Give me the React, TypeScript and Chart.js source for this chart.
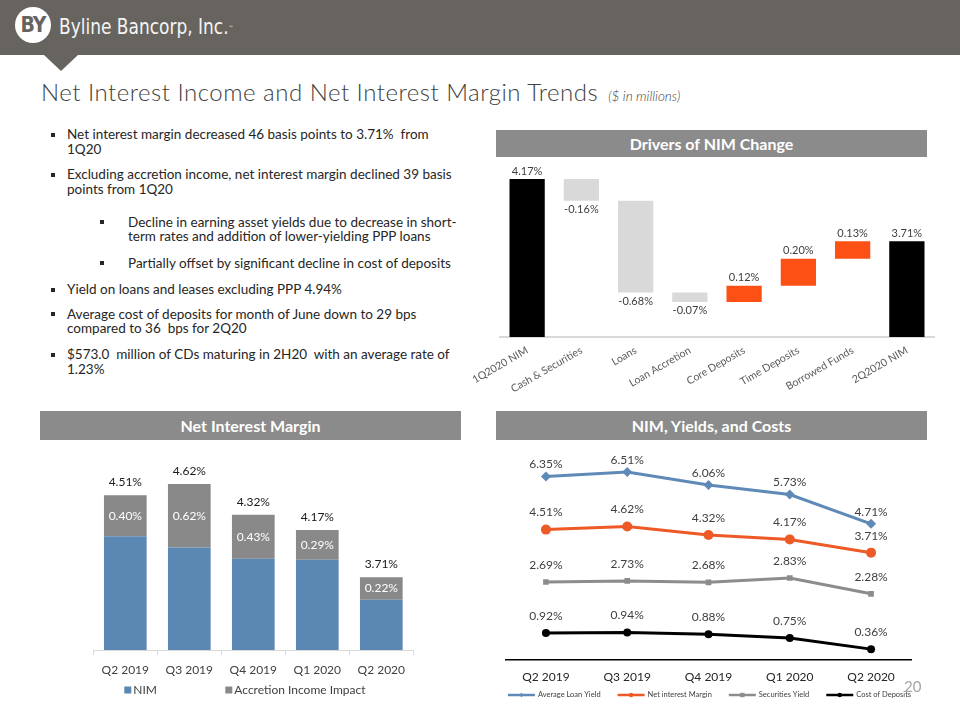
import React, { useEffect, useRef } from "react";
import { Chart, registerables } from "chart.js";

Chart.register(...registerables);

const FONT = "Lato, 'Open Sans', 'DejaVu Sans', sans-serif";
const NARROW = "'Liberation Sans Narrow', 'DejaVu Sans Condensed', 'Liberation Sans', sans-serif";
const HEADER = "#67645f";
const PANEL = "#8b8b8b";

// ---- Drivers of NIM Change (waterfall) ----
const driverLabels = ["1Q2020 NIM", "Cash & Securities", "Loans", "Loan Accretion", "Core Deposits", "Time Deposits", "Borrowed Funds", "2Q2020 NIM"];
const startNim = 4.17;
const driverChanges = [-0.16, -0.68, -0.07, 0.12, 0.2, 0.13];
const endNim = 3.71;

// ---- Net Interest Margin (stacked) ----
const quarters = ["Q2 2019", "Q3 2019", "Q4 2019", "Q1 2020", "Q2 2020"];
const reportedNim = [4.51, 4.62, 4.32, 4.17, 3.71];
const accretionImpact = [0.4, 0.62, 0.43, 0.29, 0.22];

// ---- NIM, Yields, and Costs ----
const averageLoanYield = [6.35, 6.51, 6.06, 5.73, 4.71];
const netInterestMargin = [4.51, 4.62, 4.32, 4.17, 3.71];
const securitiesYield = [2.69, 2.73, 2.68, 2.83, 2.28];
const costOfDeposits = [0.92, 0.94, 0.88, 0.75, 0.36];

const pct = (v: number) => `${v.toFixed(2)}%`;

function WaterfallChart() {
  const ref = useRef<HTMLCanvasElement>(null);
  useEffect(() => {
    const data: any[] = [startNim];
    const colors: string[] = ["#000000"];
    const values: number[] = [startNim];
    let level = startNim;
    driverChanges.forEach((c) => {
      const next = Math.round((level + c) * 100) / 100;
      data.push([Math.min(level, next), Math.max(level, next)]);
      colors.push(c < 0 ? "#d9d9d9" : "#fd5014");
      values.push(c);
      level = next;
    });
    data.push(endNim);
    colors.push("#000000");
    values.push(endNim);

    const labelPlugin = {
      id: "wfLabels",
      afterDatasetsDraw(chart: any) {
        const ctx = chart.ctx;
        const meta = chart.getDatasetMeta(0);
        ctx.save();
        ctx.font = `11px ${FONT}`;
        ctx.fillStyle = "#404040";
        ctx.textAlign = "center";
        ctx.textBaseline = "middle";
        meta.data.forEach((el: any, i: number) => {
          const top = Math.min(el.y, el.base);
          const bottom = Math.max(el.y, el.base);
          const v = values[i];
          const isTotal = i === 0 || i === values.length - 1;
          if (!isTotal && v < 0) ctx.fillText(pct(v), el.x, bottom + 9);
          else ctx.fillText(pct(v), el.x, top - 8);
        });
        ctx.restore();
      },
    };

    const chart = new Chart(ref.current as HTMLCanvasElement, {
      type: "bar",
      data: {
        labels: driverLabels,
        datasets: [
          {
            data,
            backgroundColor: colors,
            barPercentage: 0.65,
            categoryPercentage: 1,
            clip: 0,
          } as any,
        ],
      },
      options: {
        animation: false,
        responsive: false,
        maintainAspectRatio: false,
        layout: { padding: { left: 45, right: 26, top: 15, bottom: 0 } },
        plugins: { legend: { display: false }, tooltip: { enabled: false } },
        scales: {
          x: {
            grid: { display: false, drawTicks: false },
            border: { color: "#d9d9d9", width: 2 },
            ticks: {
              color: "#595959",
              font: { family: FONT, size: 10.5 },
              minRotation: 30,
              maxRotation: 30,
              padding: 7,
              autoSkip: false,
            },
            afterFit: (s: any) => {
              s.height = 58;
              s.paddingLeft = 0;
              s.paddingRight = 0;
            },
          },
          y: { display: false, min: 3.0, max: 4.2 },
        },
      } as any,
      plugins: [labelPlugin],
    });
    return () => chart.destroy();
  }, []);
  return (
    <canvas
      ref={ref}
      width={505}
      height={235}
      style={{ position: "absolute", left: 455, top: 160, width: 505, height: 235 }}
    />
  );
}

function StackedNimChart() {
  const ref = useRef<HTMLCanvasElement>(null);
  useEffect(() => {
    const coreNim = reportedNim.map((t, i) => Math.round((t - accretionImpact[i]) * 100) / 100);

    const labelPlugin = {
      id: "stackLabels",
      afterDatasetsDraw(chart: any) {
        const ctx = chart.ctx;
        const meta = chart.getDatasetMeta(1);
        ctx.save();
        ctx.font = `12px ${FONT}`;
        ctx.textAlign = "center";
        ctx.textBaseline = "middle";
        meta.data.forEach((el: any, i: number) => {
          ctx.fillStyle = "#ffffff";
          ctx.fillText(pct(accretionImpact[i]), el.x, (el.y + el.base) / 2);
          ctx.fillStyle = "#1a1a1a";
          ctx.fillText(pct(reportedNim[i]), el.x, el.y - 13);
        });
        ctx.restore();
      },
    };

    const legendPlugin = {
      id: "boxLegend",
      afterDraw(chart: any) {
        const ctx = chart.ctx;
        const area = chart.chartArea;
        const offsets = [31, 132];
        const y = area.bottom + 40;
        ctx.save();
        ctx.font = `12px ${FONT}`;
        ctx.textAlign = "left";
        ctx.textBaseline = "middle";
        chart.data.datasets.forEach((ds: any, i: number) => {
          const x = area.left + offsets[i];
          ctx.fillStyle = ds.backgroundColor;
          ctx.fillRect(x, y - 3.5, 7, 7);
          ctx.fillStyle = "#404040";
          ctx.fillText(ds.label, x + 9, y);
        });
        ctx.restore();
      },
    };

    const chart = new Chart(ref.current as HTMLCanvasElement, {
      type: "bar",
      data: {
        labels: quarters,
        datasets: [
          {
            label: "NIM",
            data: coreNim,
            backgroundColor: "#5b87b3",
            barPercentage: 0.667,
            categoryPercentage: 1,
            stack: "nim",
            clip: 0,
          } as any,
          {
            label: "Accretion Income Impact",
            data: accretionImpact,
            backgroundColor: "#898989",
            barPercentage: 0.667,
            categoryPercentage: 1,
            stack: "nim",
            clip: 0,
          } as any,
        ],
      },
      options: {
        animation: false,
        responsive: false,
        maintainAspectRatio: false,
        layout: { padding: { left: 53.3, right: 46.7, top: 20.5, bottom: 30 } },
        plugins: { legend: { display: false }, tooltip: { enabled: false } },
        scales: {
          x: {
            stacked: true,
            grid: {
              display: true,
              drawOnChartArea: false,
              drawTicks: true,
              tickLength: 5,
              color: "#d9d9d9",
              offset: true,
            },
            border: { color: "#d9d9d9", width: 1 },
            ticks: {
              color: "#404040",
              font: { family: FONT, size: 12 },
              padding: 8,
              maxRotation: 0,
            },
            afterFit: (s: any) => {
              s.height = 30;
            },
          },
          y: { stacked: true, display: false, min: 3.0, max: 4.8 },
        },
      } as any,
      plugins: [labelPlugin, legendPlugin],
    });
    return () => chart.destroy();
  }, []);
  return (
    <canvas
      ref={ref}
      width={420}
      height={265}
      style={{ position: "absolute", left: 40, top: 445, width: 420, height: 265 }}
    />
  );
}

function drawMarker(ctx: any, style: string, x: number, y: number, r: number) {
  ctx.beginPath();
  if (style === "circle") {
    ctx.arc(x, y, r, 0, Math.PI * 2);
  } else if (style === "rect") {
    ctx.rect(x - r, y - r, 2 * r, 2 * r);
  } else {
    ctx.moveTo(x, y - r);
    ctx.lineTo(x + r, y);
    ctx.lineTo(x, y + r);
    ctx.lineTo(x - r, y);
    ctx.closePath();
  }
  ctx.fill();
}

function YieldsChart() {
  const ref = useRef<HTMLCanvasElement>(null);
  useEffect(() => {
    const labelPlugin = {
      id: "pointLabels",
      afterDatasetsDraw(chart: any) {
        const ctx = chart.ctx;
        ctx.save();
        ctx.font = `12px ${FONT}`;
        ctx.fillStyle = "#404040";
        ctx.textAlign = "center";
        ctx.textBaseline = "middle";
        chart.data.datasets.forEach((ds: any, di: number) => {
          const meta = chart.getDatasetMeta(di);
          meta.data.forEach((pt: any, i: number) => {
            ctx.fillText(pct(ds.data[i]), pt.x, pt.y - ds.labelOffset);
          });
        });
        ctx.restore();
      },
    };

    const lineLegend = {
      id: "lineLegend",
      afterDraw(chart: any) {
        const ctx = chart.ctx;
        const area = chart.chartArea;
        const lineLen = 27;
        const textGap = 3;
        const itemGap = 17;
        const y = area.bottom + 35.5;
        ctx.save();
        ctx.font = `7.5px ${FONT}`;
        ctx.textAlign = "left";
        ctx.textBaseline = "middle";
        const widths = chart.data.datasets.map(
          (ds: any) => lineLen + textGap + ctx.measureText(ds.label).width
        );
        const total = widths.reduce((a: number, b: number) => a + b, 0) + itemGap * (widths.length - 1);
        let x = (area.left + area.right) / 2 + 1 - total / 2;
        chart.data.datasets.forEach((ds: any, i: number) => {
          ctx.strokeStyle = ds.borderColor;
          ctx.lineWidth = 2.5;
          ctx.beginPath();
          ctx.moveTo(x, y);
          ctx.lineTo(x + lineLen, y);
          ctx.stroke();
          ctx.fillStyle = ds.borderColor;
          drawMarker(ctx, ds.pointStyle, x + lineLen / 2, y, 2.2);
          ctx.fillStyle = "#404040";
          ctx.fillText(ds.label, x + lineLen + textGap, y);
          x += widths[i] + itemGap;
        });
        ctx.restore();
      },
    };

    const mk = (label: string, data: number[], color: string, pointStyle: string, r: number, off: number) =>
      ({
        label,
        data,
        borderColor: color,
        backgroundColor: color,
        borderWidth: 3,
        pointStyle,
        pointRadius: r,
        pointBorderWidth: 0,
        tension: 0,
        labelOffset: off,
      } as any);

    const chart = new Chart(ref.current as HTMLCanvasElement, {
      type: "line",
      data: {
        labels: quarters,
        datasets: [
          mk("Average Loan Yield", averageLoanYield, "#5f8ab8", "rectRot", 5, 12),
          mk("Net interest Margin", netInterestMargin, "#ee5a26", "circle", 5, 17),
          mk("Securities Yield", securitiesYield, "#8c8c8c", "rect", 4, 17),
          mk("Cost of Deposits", costOfDeposits, "#000000", "circle", 4, 17),
        ],
      },
      options: {
        animation: false,
        responsive: false,
        maintainAspectRatio: false,
        layout: { padding: { left: 10.3, right: 48.3, top: 12.9, bottom: 15.5 } },
        plugins: {
          tooltip: { enabled: false },
          legend: { display: false },
        },
        scales: {
          x: {
            offset: true,
            grid: { display: false, drawTicks: false },
            border: { color: "#000000", width: 1.5 },
            ticks: { color: "#262626", font: { family: FONT, size: 12 }, padding: 10 },
            afterFit: (s: any) => {
              s.height = 35;
            },
          },
          y: { display: false, min: 0, max: 7 },
        },
      } as any,
      plugins: [labelPlugin, lineLegend],
    });
    return () => chart.destroy();
  }, []);
  return (
    <canvas
      ref={ref}
      width={465}
      height={265}
      style={{ position: "absolute", left: 495, top: 445, width: 465, height: 265 }}
    />
  );
}

function PanelTitle(props: { left: number; top: number; width: number; height: number; text: string }) {
  const { left, top, width, height, text } = props;
  return (
    <div
      style={{
        position: "absolute",
        left,
        top,
        width,
        height,
        background: PANEL,
        color: "#ffffff",
        fontFamily: FONT,
        fontWeight: 700,
        fontSize: 16,
        display: "flex",
        alignItems: "center",
        justifyContent: "center",
        whiteSpace: "nowrap",
      }}
    >
      {text}
    </div>
  );
}

type Bullet = { top: number; sub?: boolean; lines: string[] };
const bullets: Bullet[] = [
  { top: 127, lines: ["Net interest margin decreased 46 basis points to 3.71%  from", "1Q20"] },
  { top: 167, lines: ["Excluding accretion income, net interest margin declined 39 basis", "points from 1Q20"] },
  { top: 214.5, sub: true, lines: ["Decline in earning asset yields due to decrease in short-", "term rates and addition of lower-yielding PPP loans"] },
  { top: 255.5, sub: true, lines: ["Partially offset by significant decline in cost of deposits"] },
  { top: 282, lines: ["Yield on loans and leases excluding PPP 4.94%"] },
  { top: 306.7, lines: ["Average cost of deposits for month of June down to 29 bps", "compared to 36  bps for 2Q20"] },
  { top: 347, lines: ["$573.0  million of CDs maturing in 2H20  with an average rate of", "1.23%"] },
];

function Bullets() {
  return (
    <>
      {bullets.map((b, i) => (
        <div key={i}>
          <div
            style={{
              position: "absolute",
              left: b.sub ? 100 : 51,
              top: b.top + 5.5,
              width: 4,
              height: 4,
              background: "#262626",
            }}
          />
          <div
            style={{
              position: "absolute",
              left: b.sub ? 128 : 67,
              top: b.top,
              fontFamily: FONT,
              fontSize: 13.5,
              lineHeight: "14.5px",
              color: "#262626",
              whiteSpace: "pre",
            }}
          >
            {b.lines.join("\n")}
          </div>
        </div>
      ))}
    </>
  );
}

export default function App() {
  return (
    <div
      style={{
        position: "relative",
        width: 960,
        height: 720,
        overflow: "hidden",
        background: "#ffffff",
        fontFamily: FONT,
      }}
    >
      <style>{`html,body{margin:0;padding:0;background:#fff;}`}</style>
      {/* header */}
      <div style={{ position: "absolute", left: 0, top: 0, width: 960, height: 55, background: HEADER }} />
      <div
        style={{
          position: "absolute",
          left: 44,
          top: 55,
          width: 0,
          height: 0,
          borderLeft: "17px solid transparent",
          borderRight: "17px solid transparent",
          borderTop: `16px solid ${HEADER}`,
        }}
      />
      <div
        style={{
          position: "absolute",
          left: 15,
          top: 7,
          width: 36,
          height: 36,
          borderRadius: "50%",
          background: "#ffffff",
          color: HEADER,
          fontFamily: NARROW,
          fontWeight: 700,
          fontSize: 21,
          letterSpacing: -1,
          display: "flex",
          alignItems: "center",
          justifyContent: "center",
        }}
      >
        BY
      </div>
      <div
        style={{
          position: "absolute",
          left: 59,
          top: 16.5,
          fontFamily: NARROW,
          fontSize: 21,
          lineHeight: "21px",
          color: "#f4f4f4",
          whiteSpace: "nowrap",
          transform: "scaleX(0.9)",
          transformOrigin: "left center",
        }}
      >
        Byline Bancorp, Inc.
        <span style={{ fontSize: 6, verticalAlign: "top" }}>™</span>
      </div>

      {/* title */}
      <div
        style={{
          position: "absolute",
          left: 41,
          top: 79.5,
          fontFamily: FONT,
          fontWeight: 300,
          fontSize: 24,
          lineHeight: "24px",
          letterSpacing: 0.5,
          color: "#404040",
          whiteSpace: "nowrap",
        }}
      >
        Net Interest Income and Net Interest Margin Trends
        <span style={{ fontSize: 13.5, fontStyle: "italic", marginLeft: 10, letterSpacing: 0 }}>($ in millions)</span>
      </div>

      <Bullets />

      <PanelTitle left={496} top={130} width={431} height={27} text="Drivers of NIM Change" />
      <PanelTitle left={40} top={411} width={421} height={29} text="Net Interest Margin" />
      <PanelTitle left={496} top={411} width={431} height={29} text="NIM, Yields, and Costs" />

      <WaterfallChart />
      <StackedNimChart />
      <YieldsChart />

      <div
        style={{
          position: "absolute",
          left: 904,
          top: 679,
          fontFamily: FONT,
          fontSize: 15,
          lineHeight: "15px",
          color: "#a6a6a6",
        }}
      >
        20
      </div>
    </div>
  );
}
